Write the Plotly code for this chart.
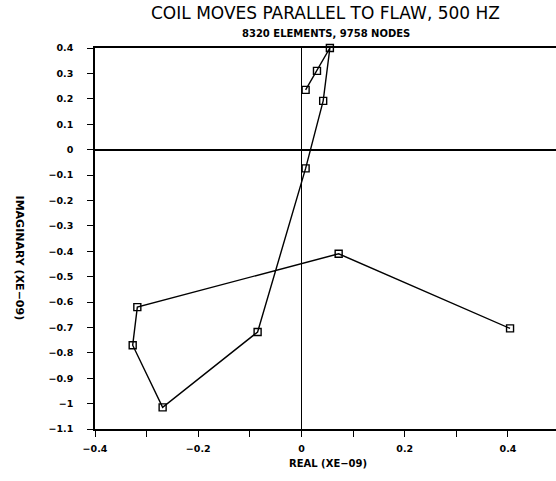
import plotly.graph_objects as go

# Data (units of 1e-09)
real_vals = [0.008, 0.030, 0.055, 0.042, 0.008, -0.085, -0.269, -0.327, -0.318, 0.072, 0.404]
imag_vals = [0.235, 0.310, 0.400, 0.192, -0.074, -0.718, -1.015, -0.770, -0.620, -0.410, -0.704]

x_tickvals = [-0.4, -0.2, 0, 0.2, 0.4]
x_ticktext = ["\u22120.4", "\u22120.2", "0", "0.2", "0.4"]
y_tickvals = [0.4, 0.3, 0.2, 0.1, 0, -0.1, -0.2, -0.3, -0.4, -0.5, -0.6, -0.7, -0.8, -0.9, -1.0, -1.1]
y_ticktext = ["0.4", "0.3", "0.2", "0.1", "0", "\u22120.1", "\u22120.2", "\u22120.3", "\u22120.4",
              "\u22120.5", "\u22120.6", "\u22120.7", "\u22120.8", "\u22120.9", "\u22121", "\u22121.1"]

title_text = "COIL MOVES PARALLEL TO FLAW, 500 HZ"
subtitle_text = "8320 ELEMENTS, 9758 NODES"
x_title = "REAL (XE\u221209)"
y_title = "IMAGINARY (XE\u221209)"

FONT = "DejaVu Sans"

fig = go.Figure()
fig.add_trace(go.Scatter(
    x=real_vals, y=imag_vals, mode="lines+markers",
    line=dict(color="black", width=1.4),
    marker=dict(symbol="square-open", size=7, color="black", line=dict(width=1.4, color="black")),
    showlegend=False, cliponaxis=False,
))

fig.update_layout(
    width=556, height=481,
    margin=dict(l=95, r=0, t=48, b=52),
    paper_bgcolor="white", plot_bgcolor="white",
    font=dict(family=FONT, color="black", size=9),
    xaxis=dict(
        range=[-0.4, 0.493], showgrid=False,
        zeroline=True, zerolinecolor="black", zerolinewidth=1,
        showline=True, linecolor="black", linewidth=1.5, mirror=True,
        tickmode="array", tickvals=x_tickvals, ticktext=x_ticktext,
        ticks="outside", ticklen=6, tickwidth=1, tickcolor="black",
        minor=dict(dtick=0.1, tick0=-0.4, ticks="outside", ticklen=6, tickwidth=1, tickcolor="black"),
        tickfont=dict(family=FONT, size=9.5, weight="bold"),
        ticklabelstandoff=4,
    ),
    yaxis=dict(
        range=[-1.1, 0.4], showgrid=False,
        zeroline=True, zerolinecolor="black", zerolinewidth=1.5,
        showline=True, linecolor="black", linewidth=1.5, mirror=False,
        tickmode="array", tickvals=y_tickvals, ticktext=y_ticktext,
        ticks="outside", ticklen=6, tickwidth=1, tickcolor="black",
        tickfont=dict(family=FONT, size=9.5, weight="bold"),
        ticklabelstandoff=12,
    ),
    annotations=[
        dict(text=title_text, xref="paper", yref="paper", x=0.5, y=1, yshift=35,
             showarrow=False, font=dict(family=FONT, size=17), xanchor="center", yanchor="middle"),
        dict(text=subtitle_text, xref="paper", yref="paper", x=0.5, y=1, yshift=15,
             showarrow=False, font=dict(family=FONT, size=10, weight="bold"), xanchor="center", yanchor="middle"),
        dict(text=x_title, xref="paper", yref="paper", x=0.505, y=0, yshift=-34,
             showarrow=False, font=dict(family=FONT, size=10, weight="bold"), xanchor="center", yanchor="middle"),
        dict(text=y_title, xref="paper", yref="paper", x=0, xshift=-76, y=0.45,
             showarrow=False, textangle=90, font=dict(family=FONT, size=11, weight="bold"),
             xanchor="center", yanchor="middle"),
    ],
)

fig.write_html("out.html", config={"displayModeBar": False},
               post_script="document.body.style.margin='0';document.body.style.padding='0';")
